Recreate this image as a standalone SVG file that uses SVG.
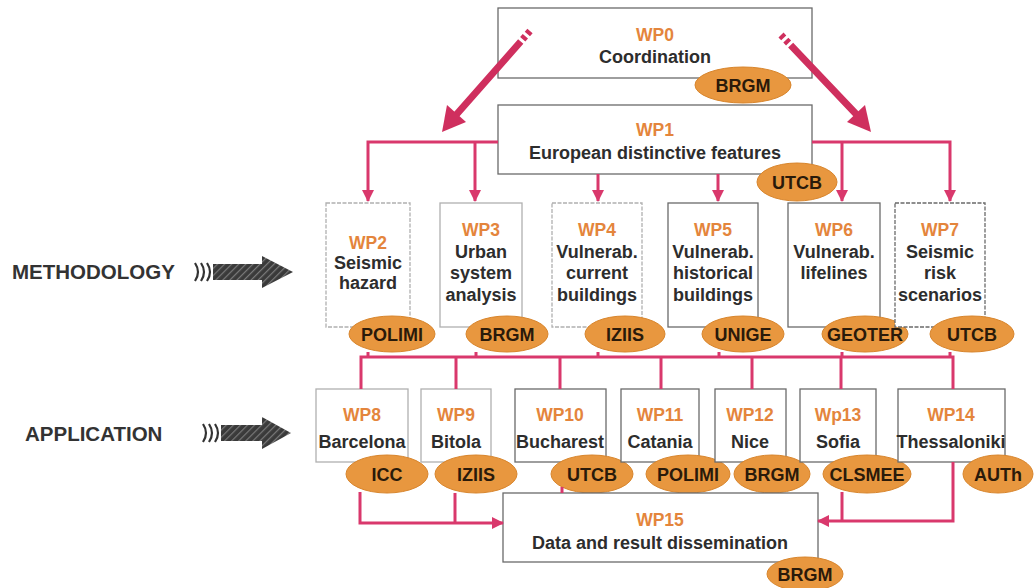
<svg xmlns="http://www.w3.org/2000/svg" width="1034" height="588" viewBox="0 0 1034 588">
<defs>
<style>
.box{fill:#fff;stroke:#6a6a6a;stroke-width:1.3}
.boxl{fill:#fff;stroke:#b0b0b0;stroke-width:1.3;stroke-dasharray:4 1.5}
.wp{font-family:"Liberation Sans",Arial,sans-serif;font-weight:bold;font-size:17.5px;fill:#E4853C;text-anchor:middle}
.t{font-family:"Liberation Sans",Arial,sans-serif;font-weight:bold;font-size:18px;fill:#2d2d2d;text-anchor:middle}
.ell{fill:#E8973F;stroke:#D8852C;stroke-width:1}
.et{font-family:"Liberation Sans",Arial,sans-serif;font-weight:bold;font-size:18px;fill:#2a1a0a;text-anchor:middle}
.con{stroke:#D9386C;stroke-width:3;fill:none}
.big{stroke:#CF2F5E;stroke-width:7;fill:none}
.side{font-family:"Liberation Sans",Arial,sans-serif;font-weight:bold;font-size:20.5px;fill:#333}
.chev{fill:none;stroke:#333;stroke-width:2.2}
.darr{fill:url(#hatch)}
</style>
<marker id="ah" markerWidth="12" markerHeight="12" refX="11" refY="6" orient="auto" markerUnits="userSpaceOnUse">
<path d="M0,0 L12,6 L0,12 Z" fill="#D9386C"/>
</marker>
<pattern id="hatch" width="5" height="5" patternUnits="userSpaceOnUse" patternTransform="rotate(45)">
<rect width="5" height="5" fill="#3a3a3a"/>
<rect width="1.2" height="5" fill="#7a7a7a"/>
</pattern>
</defs>

<g id="wp0">
<rect class="box" x="498" y="8" width="314" height="70"/>
<text class="wp" x="655" y="41">WP0</text>
<text class="t" x="655" y="63">Coordination</text>
<ellipse class="ell" cx="743" cy="85" rx="48" ry="18"/>
<text class="et" x="743" y="91.5">BRGM</text>
</g>

<g id="wp1">
<rect class="box" x="498" y="105" width="314" height="69"/>
<text class="wp" x="655" y="136">WP1</text>
<text class="t" x="655" y="159">European distinctive features</text>
<ellipse class="ell" cx="797" cy="182" rx="40" ry="19"/>
<text class="et" x="797" y="188.5">UTCB</text>
</g>

<g id="wp2">
<rect class="boxl" x="326" y="203" width="84" height="124"/>
<text class="wp" x="368" y="249">WP2</text>
<text class="t" x="368" y="269">Seismic</text>
<text class="t" x="368" y="289">hazard</text>
<ellipse class="ell" cx="392" cy="334" rx="43" ry="18"/>
<text class="et" x="392" y="340.5">POLIMI</text>
</g>

<g id="wp3">
<rect class="boxl" x="440" y="203" width="82" height="124" style="stroke-dasharray:none"/>
<text class="wp" x="481" y="236">WP3</text>
<text class="t" x="481" y="258">Urban</text>
<text class="t" x="481" y="279">system</text>
<text class="t" x="481" y="301">analysis</text>
<ellipse class="ell" cx="507" cy="334" rx="41" ry="18"/>
<text class="et" x="507" y="340.5">BRGM</text>
</g>

<g id="wp4">
<rect class="boxl" x="552" y="203" width="90" height="124"/>
<text class="wp" x="597" y="236">WP4</text>
<text class="t" x="597" y="258">Vulnerab.</text>
<text class="t" x="597" y="279">current</text>
<text class="t" x="597" y="301">buildings</text>
<ellipse class="ell" cx="625" cy="334" rx="40" ry="18"/>
<text class="et" x="625" y="340.5">IZIIS</text>
</g>

<g id="wp5">
<rect class="box" x="668" y="203" width="90" height="124"/>
<text class="wp" x="713" y="236">WP5</text>
<text class="t" x="713" y="258">Vulnerab.</text>
<text class="t" x="713" y="279">historical</text>
<text class="t" x="713" y="301">buildings</text>
<ellipse class="ell" cx="743" cy="334" rx="41" ry="18"/>
<text class="et" x="743" y="340.5">UNIGE</text>
</g>

<g id="wp6">
<rect class="box" x="788" y="203" width="92" height="124"/>
<text class="wp" x="834" y="236">WP6</text>
<text class="t" x="834" y="258">Vulnerab.</text>
<text class="t" x="834" y="279">lifelines</text>
<ellipse class="ell" cx="865" cy="334" rx="43" ry="18"/>
<text class="et" x="865" y="340.5">GEOTER</text>
</g>

<g id="wp7">
<rect class="box" x="895" y="203" width="90" height="124" style="stroke-dasharray:4 1.5"/>
<text class="wp" x="940" y="236">WP7</text>
<text class="t" x="940" y="258">Seismic</text>
<text class="t" x="940" y="279">risk</text>
<text class="t" x="940" y="301">scenarios</text>
<ellipse class="ell" cx="972" cy="334" rx="42" ry="18"/>
<text class="et" x="972" y="340.5">UTCB</text>
</g>

<g id="wp8">
<rect class="boxl" x="316" y="389" width="92" height="73" style="stroke-dasharray:none"/>
<text class="wp" x="362" y="421">WP8</text>
<text class="t" x="362" y="448">Barcelona</text>
<ellipse class="ell" cx="387" cy="474" rx="41" ry="19"/>
<text class="et" x="387" y="480.5">ICC</text>
</g>

<g id="wp9">
<rect class="boxl" x="421" y="389" width="70" height="73" style="stroke-dasharray:none"/>
<text class="wp" x="456" y="421">WP9</text>
<text class="t" x="456" y="448">Bitola</text>
<ellipse class="ell" cx="476" cy="474" rx="41" ry="19"/>
<text class="et" x="476" y="480.5">IZIIS</text>
</g>

<g id="wp10">
<rect class="box" x="515" y="389" width="91" height="73"/>
<text class="wp" x="560" y="421">WP10</text>
<text class="t" x="560" y="448">Bucharest</text>
<ellipse class="ell" cx="592" cy="474" rx="41" ry="19"/>
<text class="et" x="592" y="480.5">UTCB</text>
</g>

<g id="wp11">
<rect class="box" x="621" y="389" width="78" height="73"/>
<text class="wp" x="660" y="421">WP11</text>
<text class="t" x="660" y="448">Catania</text>
<ellipse class="ell" cx="688" cy="474" rx="42" ry="19"/>
<text class="et" x="688" y="480.5">POLIMI</text>
</g>

<g id="wp12">
<rect class="box" x="715" y="389" width="71" height="73"/>
<text class="wp" x="750" y="421">WP12</text>
<text class="t" x="750" y="448">Nice</text>
<ellipse class="ell" cx="772" cy="474" rx="38" ry="19"/>
<text class="et" x="772" y="480.5">BRGM</text>
</g>

<g id="wp13">
<rect class="box" x="800" y="389" width="76" height="73"/>
<text class="wp" x="838" y="421">Wp13</text>
<text class="t" x="838" y="448">Sofia</text>
<ellipse class="ell" cx="867" cy="474" rx="44" ry="19"/>
<text class="et" x="867" y="480.5">CLSMEE</text>
</g>

<g id="wp14">
<rect class="box" x="898" y="389" width="107" height="73"/>
<text class="wp" x="951" y="421">WP14</text>
<text class="t" x="951" y="448">Thessaloniki</text>
<ellipse class="ell" cx="998" cy="474" rx="35" ry="19"/>
<text class="et" x="998" y="480.5">AUTh</text>
</g>

<g id="wp15">
<rect class="box" x="503" y="493" width="315" height="69"/>
<text class="wp" x="660" y="526">WP15</text>
<text class="t" x="660" y="549">Data and result dissemination</text>
<ellipse class="ell" cx="805" cy="574" rx="38" ry="17"/>
<text class="et" x="805" y="580.5">BRGM</text>
</g>

<g id="connectors">
<!-- big diagonal arrows -->
<path class="big" d="M530,31 L456,115" stroke-dasharray="4 3 4 3 200"/>
<path d="M442,132 L447,105 L466,122 Z" fill="#CF2F5E"/>
<path class="big" d="M781,35 L857,115" stroke-dasharray="4 3 4 3 200"/>
<path d="M871,132 L847,122 L865,105 Z" fill="#CF2F5E"/>
<!-- WP1 distribution -->
<path class="con" d="M498,142 H368 V201" marker-end="url(#ah)"/>
<path class="con" d="M475,142 V201" marker-end="url(#ah)"/>
<path class="con" d="M598,174 V201" marker-end="url(#ah)"/>
<path class="con" d="M718,174 V201" marker-end="url(#ah)"/>
<path class="con" d="M812,142 H950 V201" marker-end="url(#ah)"/>
<path class="con" d="M842,142 V201" marker-end="url(#ah)"/>
<!-- bus between rows -->
<path class="con" d="M361,389 V357 H953 V389"/>
<path class="con" d="M368,352 V357 M476,352 V357 M598,352 V357 M719,352 V357 M842,352 V357 M950,352 V357"/>
<path class="con" d="M456,357 V389 M560,357 V389 M661,357 V389 M752,357 V389 M841,357 V389"/>
<!-- to WP15 -->
<path class="con" d="M360,492 V523 H503" marker-end="url(#ah)"/>
<path class="con" d="M455,493 V523"/>
<path class="con" d="M953,462 V521 H818" marker-end="url(#ah)"/>
<path class="con" d="M842,492 V521"/>
<path class="con" d="M562,487 V493" stroke-width="2"/>
</g>

<g id="methodology">
<text class="side" x="12" y="279">METHODOLOGY</text>
<path class="chev" d="M195,263 Q201,272 195,281"/>
<path class="chev" d="M201,263 Q207,272 201,281" stroke-width="2.8"/>
<path class="chev" d="M207,263 Q213,272 207,281" stroke-width="3.6"/>
<path class="darr" d="M213,264 L262,264 L262,256 L293,272 L262,288 L262,280 L213,280 Z"/>
</g>

<g id="application">
<text class="side" x="25" y="441">APPLICATION</text>
<path class="chev" d="M203,424 Q209,433 203,442"/>
<path class="chev" d="M209,424 Q215,433 209,442" stroke-width="2.8"/>
<path class="chev" d="M215,424 Q221,433 215,442" stroke-width="3.6"/>
<path class="darr" d="M221,425 L262,425 L262,417 L291,433 L262,449 L262,441 L221,441 Z"/>
</g>
</svg>
